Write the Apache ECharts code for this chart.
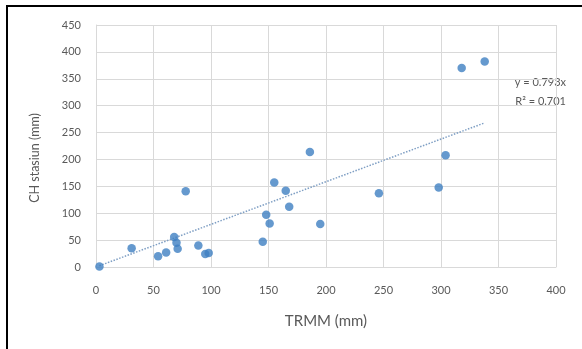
<!DOCTYPE html>
<html>
<head>
<meta charset="utf-8">
<script src="https://cdn.jsdelivr.net/npm/echarts@6/dist/echarts.min.js"></script>
<style>
  html, body { margin: 0; padding: 0; background: #fff; }
  #chart { width: 582px; height: 349px; }
</style>
</head>
<body>
<div id="chart"></div>
<script>
// TRMM vs station rainfall (mm)
const trmm = [3, 31, 54, 61, 68, 70, 71, 78, 89, 95, 98, 145, 148, 151, 155, 165, 168, 195, 186, 246, 298, 304, 318, 338];
const stasiun = [1, 35, 20, 27, 56, 45, 34, 141, 40, 24, 26, 47, 97, 81, 157, 142, 112, 80, 214, 137, 148, 208, 370, 382];
const slope = 0.793;
const r2 = 0.701;
const xTicks = [0, 50, 100, 150, 200, 250, 300, 350, 400];
const yTicks = [0, 50, 100, 150, 200, 250, 300, 350, 400, 450];

const points = trmm.map((x, i) => [x, stasiun[i]]);
const xMin = Math.min(...trmm);
const xMax = Math.max(...trmm);
const trend = [[xMin, slope * xMin], [xMax, slope * xMax]];

const font = 'Lato, "Open Sans", sans-serif';
const grey = '#595959';
const gridColor = '#d9d9d9';

const chart = echarts.init(document.getElementById('chart'));
chart.setOption({
    animation: false,
    grid: { left: 96, right: 26, top: 25, bottom: 82 },
    xAxis: {
        type: 'value',
        min: xTicks[0],
        max: xTicks[xTicks.length - 1],
        interval: 50,
        name: 'TRMM (mm)',
        nameLocation: 'middle',
        nameGap: 47,
        nameTextStyle: { fontFamily: font, fontSize: 15, color: grey },
        axisLine: { lineStyle: { color: gridColor } },
        axisTick: { show: false },
        axisLabel: { fontFamily: font, fontSize: 11, color: grey, margin: 18 },
        splitLine: { lineStyle: { color: gridColor } }
    },
    yAxis: {
        type: 'value',
        min: yTicks[0],
        max: yTicks[yTicks.length - 1],
        interval: 50,
        axisLine: { show: true, lineStyle: { color: gridColor } },
        axisTick: { show: false },
        axisLabel: { fontFamily: font, fontSize: 11, color: grey, margin: 15 },
        splitLine: { lineStyle: { color: gridColor } }
    },
    series: [
        {
            type: 'line',
            data: trend,
            showSymbol: false,
            silent: true,
            lineStyle: { color: '#7f9fc4', width: 1.5, type: [1.5, 1.5] },
            z: 1
        },
        {
            type: 'scatter',
            data: points,
            symbolSize: 8.5,
            itemStyle: { color: '#3f7fc2' },
            z: 2
        }
    ],
    graphic: [
        { type: 'rect', shape: { x: 6, y: 5, width: 576, height: 2 }, style: { fill: '#000' } },
        { type: 'rect', shape: { x: 6, y: 5, width: 2, height: 344 }, style: { fill: '#000' } },
        {
            type: 'text', x: 35, y: 158, rotation: Math.PI / 2,
            style: { text: 'CH stasiun (mm)', fontFamily: font, fontSize: 12.5, fill: grey, align: 'center', verticalAlign: 'middle' }
        },
        { type: 'text', right: 16, top: 77, style: { text: 'y = ' + slope + 'x', fontFamily: font, fontSize: 11, fill: grey } },
        { type: 'text', right: 16, top: 96, style: { text: 'R\u00b2 = ' + r2, fontFamily: font, fontSize: 11, fill: grey } }
    ]
});
</script>
</body>
</html>
